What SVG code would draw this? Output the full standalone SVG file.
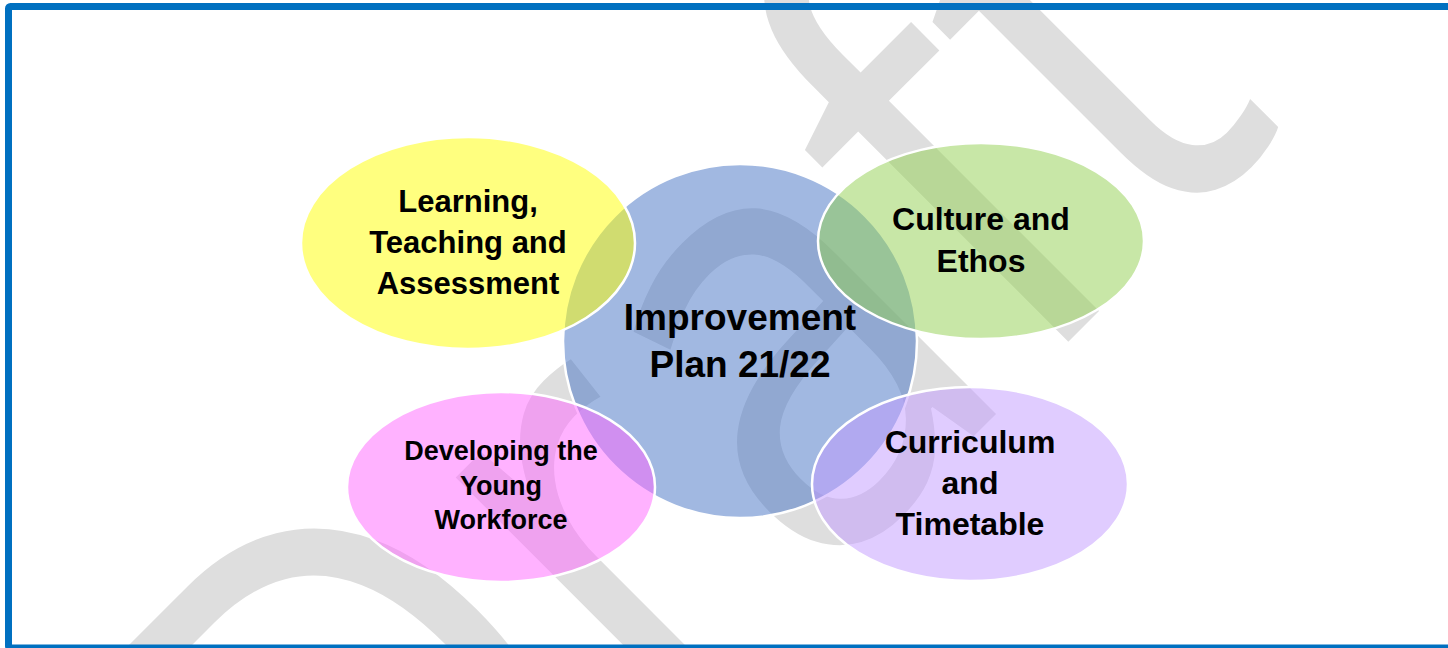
<svg xmlns="http://www.w3.org/2000/svg" width="1448" height="648" viewBox="0 0 1448 648">
  <style>
    .bg { fill: #FFFFFF; }
    .frame { fill: none; stroke: #0070C0; stroke-width: 7; }
    .mark { font-family: "Open Sans", "Liberation Sans", sans-serif; font-size: 630px; fill: #DEDEDE; }
    .blob { stroke: #FFFFFF; stroke-width: 2.5; }
    .label { font-family: "Liberation Sans", Arial, sans-serif; font-weight: bold; fill: #000000; text-anchor: middle; }
  </style>

  <rect class="bg" x="0" y="0" width="1448" height="648"/>

  <!-- background watermark, set on the diagonal and slightly condensed -->
  <text class="mark" transform="translate(387,1023) rotate(-45) scale(0.85,1)" x="0" y="0">Draft</text>

  <!-- centre node -->
  <g id="node-centre">
    <circle class="blob" cx="740" cy="341" r="177" fill="#4472C4" fill-opacity="0.5"/>
    <text class="label" font-size="37" x="740" y="330">Improvement</text>
    <text class="label" font-size="37" x="740" y="377">Plan 21/22</text>
  </g>

  <g id="node-learning">
    <ellipse class="blob" cx="468" cy="243" rx="167" ry="106" fill="#FFFF00" fill-opacity="0.5"/>
    <text class="label" font-size="31" x="468" y="212">Learning,</text>
    <text class="label" font-size="31" x="468" y="253">Teaching and</text>
    <text class="label" font-size="31" x="468" y="294">Assessment</text>
  </g>

  <g id="node-culture">
    <ellipse class="blob" cx="981" cy="241" rx="163" ry="98" fill="#92D050" fill-opacity="0.5"/>
    <text class="label" font-size="32" x="981" y="230">Culture and</text>
    <text class="label" font-size="32" x="981" y="272">Ethos</text>
  </g>

  <g id="node-workforce">
    <ellipse class="blob" cx="501" cy="487" rx="154" ry="95" fill="#FF66FF" fill-opacity="0.5"/>
    <text class="label" font-size="27" x="501" y="460">Developing the</text>
    <text class="label" font-size="27" x="501" y="495">Young</text>
    <text class="label" font-size="27" x="501" y="529">Workforce</text>
  </g>

  <g id="node-curriculum">
    <ellipse class="blob" cx="970" cy="484" rx="158" ry="97" fill="#C299FF" fill-opacity="0.5"/>
    <text class="label" font-size="32" x="970" y="453">Curriculum</text>
    <text class="label" font-size="32" x="970" y="494">and</text>
    <text class="label" font-size="32" x="970" y="535">Timetable</text>
  </g>

  <g id="connectors"></g>

  <!-- page frame -->
  <rect class="frame" x="8.5" y="6.5" width="1460" height="641.5" rx="2"/>
</svg>
